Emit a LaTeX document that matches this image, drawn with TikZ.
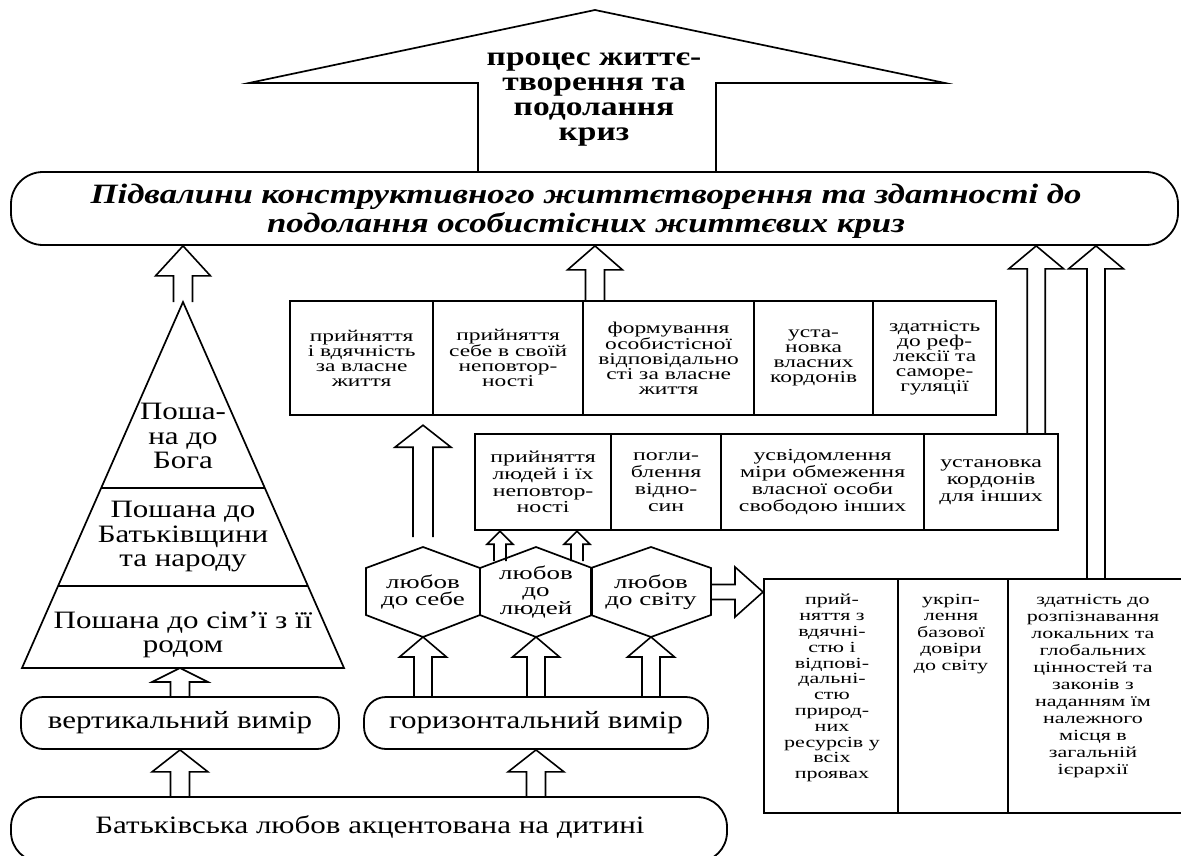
\documentclass[tikz,border=0pt]{standalone}
\usepackage{fontspec}
\setmainfont{Liberation Serif}[FakeStretch=1.24]
\newfontfamily\cellfont{Liberation Serif}[FakeStretch=1.42]
\usetikzlibrary{calc}
\newcommand\fsMain{\fontsize{25}{24.5}\selectfont}
\newcommand\fsCell{\cellfont\fontsize{16.5}{15}\selectfont}
\newcommand\fsMid{\cellfont\fontsize{16.8}{16.7}\selectfont}
\newcommand\fsHex{\cellfont\fontsize{19}{17.5}\selectfont}
\newcommand\fsRa{\cellfont\fontsize{15.5}{15.8}\selectfont}
\newcommand\fsRb{\cellfont\fontsize{15.5}{16.5}\selectfont}
\newcommand\fsRc{\cellfont\fontsize{15.5}{17}\selectfont}
\newcommand\fsHouse{\fontsize{27}{25}\selectfont\bfseries}
\newcommand\fsTop{\fontsize{28}{29}\selectfont\bfseries\itshape}
% #1 tail, #2 tip, #3 shaft half width, #4 head half width, #5 head length
\newcommand\blockarrow[5]{%
  \path (#2) coordinate (baH) ($(#2)!#5!(#1)$) coordinate (baN);
  \draw[blockline] ($(#1)!#3!90:(#2)$) -- ($(baN)!#3!90:(baH)$) -- ($(baN)!#4!90:(baH)$) -- (baH)
     -- ($(baN)!#4!-90:(baH)$) -- ($(baN)!#3!-90:(baH)$) -- ($(#1)!#3!-90:(#2)$);
}
\newcommand\hexagon[2]{%
  \draw[outline] ($(#1)+(0,-45)$) -- ($(#1)+(#2,-24)$) -- ($(#1)+(#2,23)$) -- ($(#1)+(0,45)$)
     -- ($(#1)+(-#2,23)$) -- ($(#1)+(-#2,-24)$) -- cycle;
}
\tikzset{
  outline/.style={line width=1.7pt, line join=miter},
  blockline/.style={line width=1.6pt, line join=miter},
  cell/.style={draw, line width=2.2pt, anchor=north west, align=center, inner sep=0pt},
  pill/.style={draw, line width=1.8pt, rounded corners=#1, inner sep=0pt},
  lbl/.style={align=center, inner sep=0pt},
}
\begin{document}
\begin{tikzpicture}[x=1pt,y=-1pt]
\fill[white] (0,0) rectangle (1181,856);
\useasboundingbox (0,0) rectangle (1181,856);

% house (roof arrow)
\coordinate (hapex) at (595,10);
\draw[outline] (478,172) -- (478,83) -- (249,83) -- (hapex) -- (945,83) -- (716,83) -- (716,172);
\node[lbl, font=\fsHouse] (house) at (594,100) {процес життє-\\творення та\\подолання\\криз};

% top pill
\node[pill=32pt, minimum width=1167pt, minimum height=73pt] (toppill) at (594.5,208.5) {};
\node[lbl, font=\fsTop] (toptxt) at (586,211) {Підвалини конструктивного життєтворення та здатності до\\подолання особистісних життєвих криз};

% pyramid
\coordinate (pyrapex) at (183,302);
\coordinate (pyrbl) at (22,668);
\coordinate (pyrbr) at (344,668);
\draw[outline] (pyrapex) -- (pyrbl) -- (pyrbr) -- cycle;
\draw[outline] ($(pyrapex)!0.5082!(pyrbl)$) -- ($(pyrapex)!0.5082!(pyrbr)$);
\draw[outline] ($(pyrapex)!0.776!(pyrbl)$) -- ($(pyrapex)!0.776!(pyrbr)$);
\node[lbl, font=\fsMain] (p1) at (183,436) {Поша-\\на до\\Бога};
\node[lbl, font=\fsMain] (p2) at (183,537) {Пошана до\\Батьківщини\\та народу};
\node[lbl, font=\fsMain] (p3) at (183,635) {Пошана до сім’ї з її\\родом};

% upper row
\node[cell, minimum width=143pt, minimum height=114pt, font=\fsCell] (u1) at (289,300) {прийняття\\і вдячність\\за власне\\життя};
\node[cell, minimum width=150pt, minimum height=114pt, font=\fsCell] (u2) at (432,300) {прийняття\\себе в своїй\\неповтор-\\ності};
\node[cell, minimum width=171pt, minimum height=114pt, font=\fsCell] (u3) at (582,300) {формування\\особистісної\\відповідально\\сті за власне\\життя};
\node[cell, minimum width=119pt, minimum height=114pt, font=\fsCell] (u4) at (753,300) {уста-\\новка\\власних\\кордонів};
\node[cell, minimum width=123pt, minimum height=114pt, font=\fsCell] (u5) at (872,300) {здатність\\до реф-\\лексії та\\саморе-\\гуляції};

% middle row
\node[cell, minimum width=136pt, minimum height=96pt, font=\fsMid] (m1) at (474,433) {прийняття\\людей і їх\\неповтор-\\ності};
\node[cell, minimum width=110pt, minimum height=96pt, font=\fsMid] (m2) at (610,433) {погли-\\блення\\відно-\\син};
\node[cell, minimum width=203pt, minimum height=96pt, font=\fsMid] (m3) at (720,433) {усвідомлення\\міри обмеження\\власної особи\\свободою інших};
\node[cell, minimum width=134pt, minimum height=96pt, font=\fsMid] (m4) at (923,433) {установка\\кордонів\\для інших};

% hexagons
\node[lbl, font=\fsHex] (h1) at (423,592) {любов\\до себе};
\node[lbl, font=\fsHex] (h2) at (536,592) {любов\\до\\людей};
\node[lbl, font=\fsHex] (h3) at (651,592) {любов\\до світу};
\hexagon{h1}{57}
\hexagon{h2}{56}
\hexagon{h3}{60}

% bottom right table
\node[cell, minimum width=134pt, minimum height=234pt] (r1) at (763,578) {};
\node[cell, minimum width=110pt, minimum height=234pt] (r2) at (897,578) {};
\node[cell, minimum width=178pt, minimum height=234pt] (r3) at (1007,578) {};
\node[lbl, anchor=north, font=\fsRa] (r1t) at (832,594) {прий-\\няття з\\вдячні-\\стю і\\відпові-\\дальні-\\стю\\природ-\\них\\ресурсів у\\всіх\\проявах};
\node[lbl, anchor=north, font=\fsRb] (r2t) at (951,594) {укріп-\\лення\\базової\\довіри\\до світу};
\node[lbl, anchor=north, font=\fsRc] (r3t) at (1093,594) {здатність до\\розпізнавання\\локальних та\\глобальних\\цінностей та\\законів з\\наданням їм\\належного\\місця в\\загальній\\ієрархії};

% pills
\node[pill=22pt, minimum width=318pt, minimum height=52pt, font=\fsMain] (vpill) at (180,723) {вертикальний вимір};
\node[pill=22pt, minimum width=344pt, minimum height=52pt, font=\fsMain] (hpill) at (536,723) {горизонтальний вимір};
\node[pill=30pt, minimum width=716pt, minimum height=65pt] (bpill) at (369,829.5) {};
\node[lbl, font=\fsMain] (btxt) at (370,827) {Батьківська любов акцентована на дитині};

% block arrows
\coordinate (a1h) at (toppill.south -| pyrapex);
\blockarrow{pyrapex}{a1h}{9.5pt}{27.5pt}{30pt}
\coordinate (a2t) at ($(u3.north west)+(13,0)$);
\coordinate (a2h) at (toppill.south -| a2t);
\blockarrow{a2t}{a2h}{9.5pt}{27.5pt}{24pt}
\coordinate (a3t) at ($(m4.north east)+(-23,0)$);
\coordinate (a3h) at (toppill.south -| a3t);
\blockarrow{a3t}{a3h}{9pt}{27.5pt}{23pt}
\coordinate (a4t) at ($(r3.north west)+(89,0)$);
\coordinate (a4h) at (toppill.south -| a4t);
\blockarrow{a4t}{a4h}{9pt}{27.5pt}{23pt}
\coordinate (a5t) at ($(h1)+(0,-55)$);
\coordinate (a5h) at ($(u1.south -| h1)+(0,9)$);
\blockarrow{a5t}{a5h}{10pt}{28pt}{22pt}
\coordinate (a6t) at ($(h2)+(-36,-31)$);
\coordinate (a6h) at (m1.south -| a6t);
\blockarrow{a6t}{a6h}{6pt}{13pt}{13pt}
\coordinate (a7t) at ($(h2)+(41,-31)$);
\coordinate (a7h) at (m1.south -| a7t);
\blockarrow{a7t}{a7h}{6pt}{13pt}{13pt}
\coordinate (a8t) at ($(h3)+(60,0)$);
\coordinate (a8h) at (r1.north west |- a8t);
\blockarrow{a8t}{a8h}{7.5pt}{25pt}{28pt}
\coordinate (a9t) at (hpill.north -| h1);
\coordinate (a9h) at ($(h1)+(0,45)$);
\blockarrow{a9t}{a9h}{9pt}{23.5pt}{20pt}
\coordinate (a10t) at (hpill.north -| h2);
\coordinate (a10h) at ($(h2)+(0,45)$);
\blockarrow{a10t}{a10h}{9pt}{23.5pt}{20pt}
\coordinate (a11t) at (hpill.north -| h3);
\coordinate (a11h) at ($(h3)+(0,45)$);
\blockarrow{a11t}{a11h}{9pt}{23.5pt}{20pt}
\coordinate (a12t) at (bpill.north -| vpill);
\blockarrow{a12t}{vpill.south}{9.5pt}{28pt}{22pt}
\coordinate (a13h) at (vpill.north |- pyrbl);
\blockarrow{vpill.north}{a13h}{9.5pt}{28pt}{14pt}
\coordinate (a14t) at (bpill.north -| hpill);
\blockarrow{a14t}{hpill.south}{9.5pt}{28pt}{22pt}
\end{tikzpicture}
\end{document}
